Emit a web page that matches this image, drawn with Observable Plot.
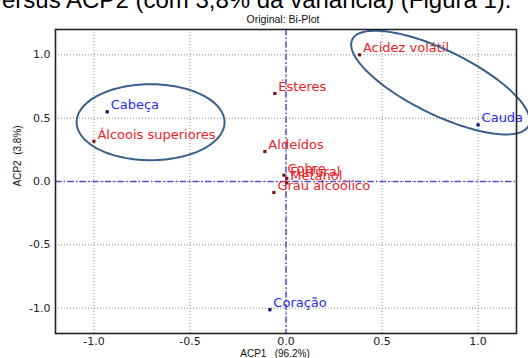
<!DOCTYPE html>
<html>
<head>
<meta charset="utf-8">
<script src="https://cdn.jsdelivr.net/npm/d3@7"></script>
<script src="https://cdn.jsdelivr.net/npm/@observablehq/plot@0.6"></script>
<style>
  html, body { margin: 0; padding: 0; background: #fff; overflow: hidden; }
  #wrap { position: relative; width: 528px; height: 358px; overflow: hidden; }
  #top { position: absolute; left: -10px; top: -12px; white-space: nowrap; font: 24px/24px "Liberation Sans", Arial, sans-serif; color: #000; }
  #title { position: absolute; left: 0; width: 566px; top: 13px; text-align: center; font: 10.5px/12px "Liberation Sans", Arial, sans-serif; color: #111; }
  #chart { position: absolute; left: 0; top: 0; }
</style>
</head>
<body>
<div id="wrap">
  <div id="chart"></div>
  <div id="top">versus ACP2 (com 3,8% da variância) (Figura 1).</div>
  <div id="title">Original: Bi-Plot</div>
</div>
<script>
// ---- data ----
const names = ["Cabeça", "Coração", "Cauda", "Álcoois superiores", "Acidez volátil", "Ésteres", "Aldeídos", "Cobre", "Furfural", "Metanol", "Grau alcoólico"];
const acp1  = [-0.931, -0.084, 1.0, -1.0, 0.382, -0.058, -0.110, -0.011, 0.004, 0.004, -0.063];
const acp2  = [0.550, -1.012, 0.447, 0.318, 1.0, 0.695, 0.237, 0.050, 0.025, -0.010, -0.087];
const kinds = ["amostra", "amostra", "amostra", "var", "var", "var", "var", "var", "var", "var", "var"];
const ticks = [-1.0, -0.5, 0.0, 0.5, 1.0];
const xLabel = "ACP1   (96.2%)";
const yLabel = "ACP2  (3.8%)";
// ellipse annotations: center, half-axis vector u, half-axis vector v (data units)
const ellipseCenters = [[-0.705, 0.468], [0.804, 0.781]];
const ellipseU = [[0.385, 0], [0.459, -0.340]];
const ellipseV = [[0, 0.30], [-0.073, -0.228]];

const rows = names.map((n, i) => ({name: n, x: acp1[i], y: acp2[i], kind: kinds[i]}));
const ellPts = [];
ellipseCenters.forEach((c, k) => {
  for (let j = 0; j <= 160; j++) {
    const t = 2 * Math.PI * j / 160;
    ellPts.push({
      e: k,
      x: c[0] + Math.cos(t) * ellipseU[k][0] + Math.sin(t) * ellipseV[k][0],
      y: c[1] + Math.cos(t) * ellipseU[k][1] + Math.sin(t) * ellipseV[k][1]
    });
  }
});

const labelColor = d => d.kind === "var" ? "#ea2226" : "#2b2bea";
const dotColor = d => d.kind === "var" ? "#7d1216" : "#0a0a6e";

const chart = Plot.plot({
  width: 528,
  height: 358,
  marginLeft: 55,
  marginRight: 12,
  marginTop: 29,
  marginBottom: 25,
  x: {domain: [-1.2, 1.2], ticks: ticks},
  y: {domain: [-1.2, 1.2], ticks: ticks},
  style: {fontFamily: "DejaVu Sans, sans-serif", background: "#fff"},
  marks: [
    Plot.gridX(ticks, {stroke: "#8c8c8c", strokeOpacity: 1, strokeDasharray: "1,2"}),
    Plot.gridY(ticks, {stroke: "#8c8c8c", strokeOpacity: 1, strokeDasharray: "1,2"}),
    Plot.ruleX([0], {stroke: "#4d4ddb", strokeWidth: 1.5, strokeDasharray: "6,2.5,1.5,2.5"}),
    Plot.ruleY([0], {stroke: "#4d4ddb", strokeWidth: 1.5, strokeDasharray: "6,2.5,1.5,2.5"}),
    Plot.axisX(ticks, {tickSize: 0, tickPadding: 4, fontSize: 11, fill: "#222", label: null, tickFormat: d => d.toFixed(1)}),
    Plot.axisY(ticks, {tickSize: 0, tickPadding: 5, fontSize: 11, fill: "#222", label: null, tickFormat: d => d.toFixed(1)}),
    Plot.dot(rows, {x: "x", y: "y", symbol: "square", r: 1.8, fill: dotColor, stroke: null}),
    Plot.text(rows, {x: "x", y: "y", text: "name", fill: labelColor, textAnchor: "start", lineAnchor: "bottom", dx: 3.5, dy: -2.5, fontSize: 13}),
    Plot.line(ellPts, {x: "x", y: "y", z: "e", stroke: "#3a5f8c", strokeWidth: 2}),
    Plot.frame({stroke: "#222", strokeWidth: 1.6}),
    Plot.text([xLabel], {frameAnchor: "bottom", text: d => d, dx: -11, dy: 23, lineAnchor: "bottom", fontSize: 10, fill: "#111", fontFamily: "Liberation Sans, Arial, sans-serif"}),
    Plot.text([yLabel], {frameAnchor: "left", text: d => d, rotate: -90, dx: -38, dy: 5, fontSize: 10, fill: "#111", fontFamily: "Liberation Sans, Arial, sans-serif"})
  ]
});
document.getElementById("chart").appendChild(chart);
</script>
</body>
</html>
